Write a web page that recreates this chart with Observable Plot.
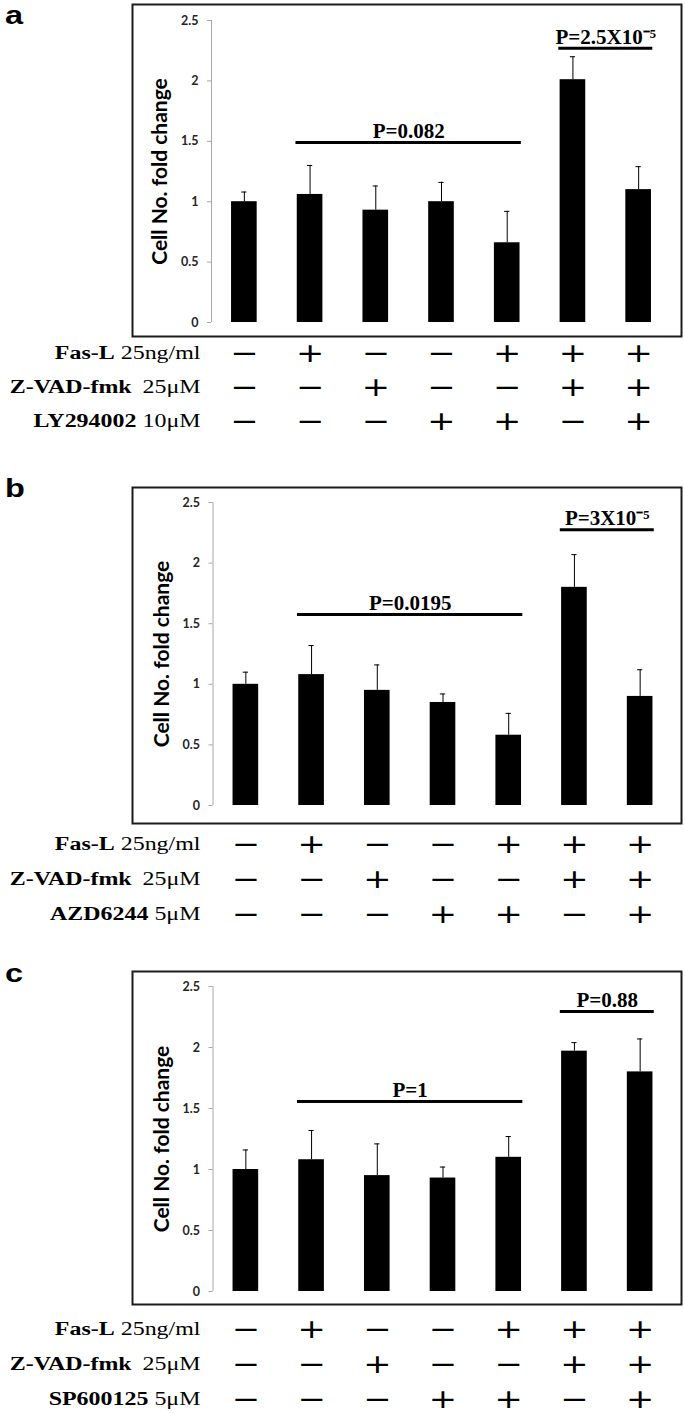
<!DOCTYPE html>
<html>
<head>
<meta charset="utf-8">
<script src="https://cdn.jsdelivr.net/npm/d3@7"></script>
<script src="https://cdn.jsdelivr.net/npm/@observablehq/plot@0.6"></script>
<style>
  body { margin: 0; background: #fff; }
  #root { position: relative; width: 685px; height: 1414px; overflow: hidden; background: #fff; }
  .panel-letter { position: absolute; left: 5px; font: bold 26px "Liberation Sans", Arial, sans-serif; line-height: normal; transform-origin: left top; transform: scaleX(1.25); color: #000; }
  .piece { position: absolute; left: 0; display: block; background: transparent !important; }
  .piece text { white-space: pre; }
</style>
</head>
<body>
<div id="root"></div>
<script>
// ---------------- data ----------------
const conditions = [1, 2, 3, 4, 5, 6, 7];
const fasLSigns      = ["−", "+", "−", "−", "+", "+", "+"];
const zvadSigns      = ["−", "−", "+", "−", "−", "+", "+"];
const inhibitorSigns = ["−", "−", "−", "+", "+", "−", "+"];
const rowNames = ["Fas-L", "Z-VAD-fmk"];
const rowDoses = ["25ng/ml", "25μM"];
const panelLetters = ["a", "b", "c"];
const inhibitorNames = ["LY294002", "AZD6244", "SP600125"];
const inhibitorDoses = ["10μM", "5μM", "5μM"];
const yTicks = [0, 0.5, 1, 1.5, 2, 2.5];
const yTickLabels = ["0", "0.5", "1", "1.5", "2", "2.5"];
const yTitle = "Cell No. fold change";

// panel a (LY294002)
const meanA   = [1.00, 1.06, 0.93, 1.00, 0.66, 2.01, 1.10];
const errTopA = [1.08, 1.30, 1.13, 1.16, 0.92, 2.20, 1.29];
// panel b (AZD6244)
const meanB   = [1.00, 1.08, 0.95, 0.85, 0.58, 1.80, 0.90];
const errTopB = [1.10, 1.32, 1.16, 0.92, 0.76, 2.07, 1.12];
// panel c (SP600125)
const meanC   = [1.00, 1.08, 0.95, 0.93, 1.10, 1.97, 1.80];
const errTopC = [1.16, 1.32, 1.21, 1.02, 1.27, 2.04, 2.07];

// significance brackets (from condition, to condition, level, label)
const bracketFrom = [2, 6];
const bracketTo   = [5, 7];
const pLevelA = [1.49, 2.27];
const pLevelB = [1.575, 2.275];
const pLevelC = [1.557, 2.295];
const pLabelA = ["P=0.082", "P=2.5X10⁻⁵"];
const pLabelB = ["P=0.0195", "P=3X10⁻⁵"];
const pLabelC = ["P=1", "P=0.88"];

// ---------------- layout (pixels) ----------------
const layouts = [
  {boxTop: 4,   y25: 20,  y0: 322,  boxBottom: 336,  rowTop: 351,  rowBottom: 420,  letterBase: 23.6, shift: 0},
  {boxTop: 487, y25: 502, y0: 805,  boxBottom: 823,  rowTop: 842,  rowBottom: 913,  letterBase: 497,  shift: 1.5},
  {boxTop: 971, y25: 986, y0: 1291, boxBottom: 1304, rowTop: 1327, rowBottom: 1398, letterBase: 982,  shift: 1.5}
];
const panelMeans = [meanA, meanB, meanC];
const panelErrs = [errTopA, errTopB, errTopC];
const panelLevels = [pLevelA, pLevelB, pLevelC];
const panelPLabels = [pLabelA, pLabelB, pLabelC];

const W = 685;
const axisX = 211, rightEdge = 671, boxLeft = 132, boxRight = 681;
const halfBar = 0.195, halfCap = 0.04;
const serif = "'Liberation Serif', 'Times New Roman', serif";
const sans = "Lato, 'Open Sans', sans-serif";
const signFont = "'DejaVu Sans', sans-serif";
const root = document.getElementById("root");

function stretchTexts(g, sx) {
  d3.select(g).selectAll("text").each(function () {
    const t = this.getAttribute("transform") || "";
    this.setAttribute("transform", t + ` scale(${sx},1)`);
  });
}

panelLetters.forEach((letter, p) => {
  const L = layouts[p];
  const data = conditions.map((c, i) => ({cond: c, mean: panelMeans[p][i], top: panelErrs[p][i]}));
  const brackets = bracketFrom.map((f, i) => ({from: f, to: bracketTo[i], level: panelLevels[p][i], label: panelPLabels[p][i]}));

  // panel letter
  const div = document.createElement("div");
  div.className = "panel-letter";
  div.textContent = letter;
  div.style.top = Math.max(0, L.letterBase - 23.6) + "px";
  root.appendChild(div);

  // chart
  const svgTop = L.boxTop - 3;
  const svgBottom = L.boxBottom + 3;
  const mL = axisX + L.shift, mR = W - rightEdge - L.shift;
  const chart = Plot.plot({
    width: W,
    height: svgBottom - svgTop,
    marginLeft: mL,
    marginRight: mR,
    marginTop: L.y25 - svgTop,
    marginBottom: svgBottom - L.y0,
    style: {background: "transparent"},
    x: {domain: [0.5, 7.5], axis: null},
    y: {domain: [0, 2.5], ticks: yTicks, tickFormat: d => yTickLabels[yTicks.indexOf(d)], tickSize: 4, tickPadding: 9, label: null},
    marks: [
      Plot.frame({stroke: "#1c1c1c", strokeWidth: 2,
        insetTop: -(L.y25 - L.boxTop), insetBottom: -(L.boxBottom - L.y0),
        insetLeft: -(mL - boxLeft), insetRight: -(boxRight - (W - mR))}),
      Plot.ruleX([0.5], {x: d => d, y1: () => 0, y2: () => 2.5, stroke: "#a8a8a8", strokeWidth: 1}),
      Plot.rect(data, {x1: d => d.cond - halfBar, x2: d => d.cond + halfBar, y1: () => 0, y2: "mean", fill: "#000"}),
      Plot.ruleX(data, {x: "cond", y1: "mean", y2: "top", stroke: "#000", strokeWidth: 1}),
      Plot.ruleY(data, {y: "top", x1: d => d.cond - halfCap, x2: d => d.cond + halfCap, stroke: "#000", strokeWidth: 1}),
      Plot.ruleY(brackets, {y: "level", x1: d => d.from - halfBar - 0.02, x2: d => d.to + halfBar + 0.02, stroke: "#000", strokeWidth: 3}),
      Plot.text(brackets, {x: d => (d.from + d.to) / 2, y: "level", text: "label", lineAnchor: "bottom", dy: -4.5,
        fontFamily: serif, fontWeight: "bold", fontSize: 21, fill: "#000"}),
      Plot.text([yTitle], {text: d => d, frameAnchor: "left", textAnchor: "middle", rotate: -90, dx: -51,
        fontFamily: sans, fontWeight: "bold", fontSize: 21, fill: "#000"})
    ]
  });
  chart.classList.add("piece");
  chart.style.top = svgTop + "px";
  d3.select(chart).selectAll('g[aria-label^="y-axis"] text')
    .attr("fill", "#262626")
    .style("font-family", sans).style("font-weight", "bold").style("font-size", "12.5px");
  d3.select(chart).selectAll('g[aria-label^="y-axis"] line, g[aria-label^="y-axis"] path')
    .attr("stroke", "#a8a8a8");
  root.appendChild(chart);

  // treatment table (transparent svg overlapping the lower part of the chart)
  const rows = [
    {key: rowNames[0], dose: rowDoses[0], signs: fasLSigns},
    {key: rowNames[1], dose: rowDoses[1], signs: zvadSigns},
    {key: inhibitorNames[p], dose: inhibitorDoses[p], signs: inhibitorSigns}
  ];
  const cells = rows.flatMap(r => conditions.map((c, i) => ({row: r.key, cond: c, sign: r.signs[i]})));
  const tTop = L.boxBottom - 30;
  const tHeight = Math.min(1414, L.rowBottom + 30) - tTop;
  const table = Plot.plot({
    width: W,
    height: tHeight,
    marginLeft: mL,
    marginRight: mR,
    marginTop: 0,
    marginBottom: 0,
    style: {background: "transparent"},
    x: {domain: [0.5, 7.5], axis: null},
    y: {type: "point", domain: rows.map(r => r.key), range: [L.rowTop - tTop, L.rowBottom - tTop], padding: 0, axis: null},
    marks: [
      Plot.text(cells, {x: "cond", y: "row", text: "sign", dy: 0.5, fontFamily: signFont, fontSize: 27, fill: "#000"}),
      Plot.text(rows, {y: "key", text: d => d.key + "|" + d.dose, frameAnchor: "left", textAnchor: "end", dx: -(mL - 200),
        fontFamily: serif, fontSize: 19, fill: "#000"})
    ]
  });
  table.classList.add("piece");
  table.style.top = tTop + "px";
  table.style.pointerEvents = "none";
  const groups = table.querySelectorAll('g[aria-label="text"]');
  stretchTexts(groups[0], 1.25);
  d3.select(groups[1]).selectAll("text").each(function () {
    const [name, dose] = this.textContent.split("|");
    this.textContent = "";
    d3.select(this).append("tspan").attr("font-weight", "bold").text(name);
    d3.select(this).append("tspan").text((name === rowNames[1] ? "\u2009 " : " ") + dose);
  });
  stretchTexts(groups[1], 1.26);
  root.appendChild(table);
});
</script>
</body>
</html>
